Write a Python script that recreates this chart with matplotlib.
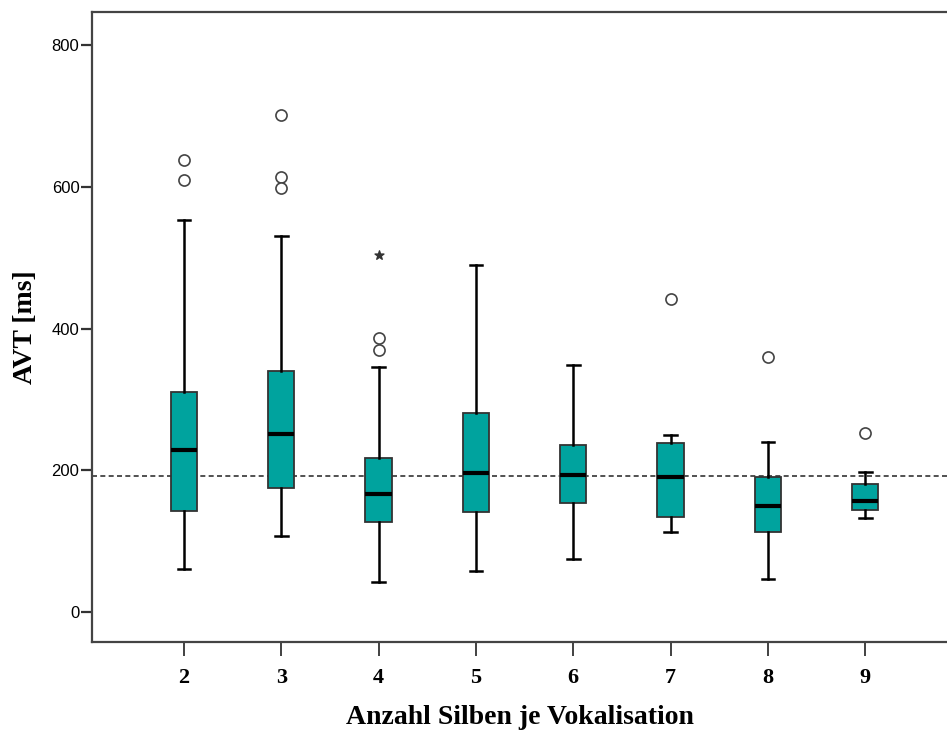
import numpy as np
import matplotlib

matplotlib.use("Agg")
import matplotlib.pyplot as plt

# data (AVT in ms per number of syllables)
groups = [2, 3, 4, 5, 6, 7, 8, 9]
whislo = [61, 108, 42, 58, 75, 113, 47, 133]
q1 = [142, 175, 127, 141, 154, 134, 113, 144]
med = [228, 251, 167, 196, 193, 191, 150, 157]
q3 = [311, 340, 217, 281, 236, 238, 190, 181]
whishi = [553, 530, 346, 490, 348, 250, 240, 198]
outliers = [[638, 610], [701, 614, 598], [386, 370], [], [], [442], [360], [252]]
extremes = [[], [], [504], [], [], [], [], []]
ref_line = 192

TEAL = "#00A39E"
SERIF = "Liberation Serif"

fig = plt.figure(figsize=(9.47, 7.33), dpi=100)
ax = fig.add_axes([0.0971, 0.1241, 0.9029, 0.8595])

stats = []
for i in range(len(groups)):
    stats.append({
        "whislo": whislo[i], "q1": q1[i], "med": med[i], "q3": q3[i],
        "whishi": whishi[i], "fliers": outliers[i],
    })

ax.bxp(stats, positions=groups, widths=0.27, patch_artist=True,
       boxprops=dict(facecolor=TEAL, edgecolor="#333333", linewidth=1.3),
       medianprops=dict(color="black", linewidth=3),
       whiskerprops=dict(color="black", linewidth=1.8),
       capprops=dict(color="black", linewidth=1.8),
       capwidths=0.13,
       flierprops=dict(marker="o", markerfacecolor="white",
                       markeredgecolor="#444444", markersize=8,
                       markeredgewidth=1.2))

for g, ex in zip(groups, extremes):
    if ex:
        ax.scatter([g] * len(ex), ex, marker="*", s=45, color="#333333",
                   zorder=5)

ax.axhline(ref_line, color="#333333", linestyle=(0, (3, 2)), linewidth=1.2,
           zorder=1)

ax.set_xlim(1.055, 9.84)
ax.set_ylim(-42.3, 846.6)
ax.set_yticks([0, 200, 400, 600, 800])
ax.set_xticks(groups)
ax.set_xticklabels([str(g) for g in groups], fontfamily=SERIF,
                   fontweight="bold", fontsize=16)
for lab in ax.get_yticklabels():
    lab.set_fontfamily("Liberation Sans")
    lab.set_fontsize(12)

ax.tick_params(axis="x", length=10, width=1.3, color="#333333", pad=9)
ax.tick_params(axis="y", length=8, width=1.6, color="#333333", pad=1)

for side in ["left", "bottom", "top"]:
    ax.spines[side].set_color("#444444")
    ax.spines[side].set_linewidth(1.6)
ax.spines["right"].set_visible(False)

ax.set_xlabel("Anzahl Silben je Vokalisation", fontfamily=SERIF,
              fontweight="bold", fontsize=20, labelpad=12)
ax.set_ylabel("AVT [ms]", fontfamily=SERIF, fontweight="bold", fontsize=20,
              labelpad=10)

fig.savefig("out.png", dpi=100, facecolor="white")
